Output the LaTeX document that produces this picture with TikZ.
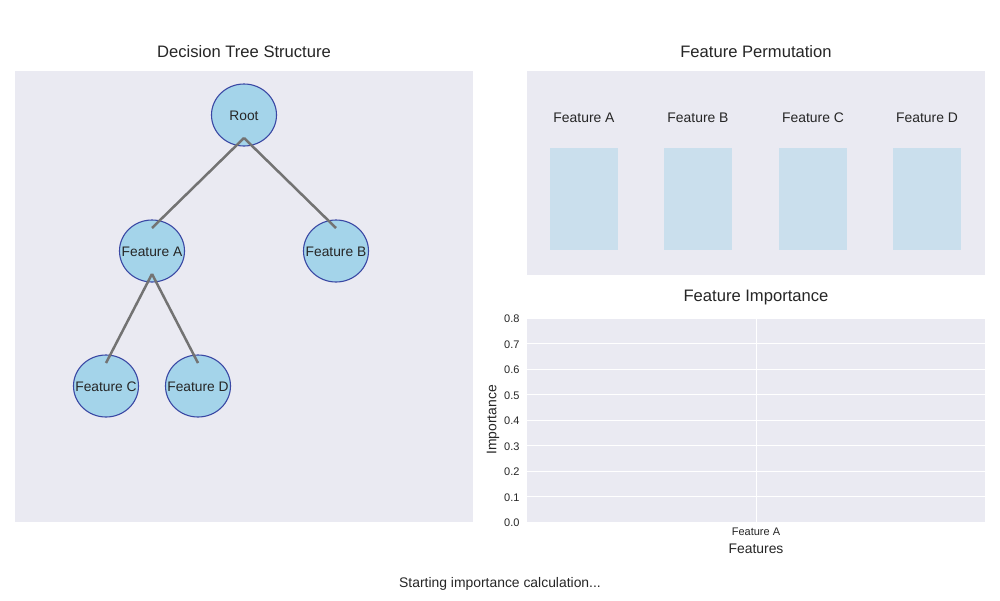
\documentclass[tikz,border=0pt]{standalone}
\usepackage{fontspec}
\setmainfont{Liberation Sans}
\usetikzlibrary{calc, shapes.geometric}

\definecolor{panelbg}{HTML}{EAEAF2}
\definecolor{nodefill}{HTML}{A4D4EA}
\definecolor{nodeedge}{HTML}{3A48A4}
\definecolor{edgegray}{HTML}{737373}
\definecolor{permfill}{HTML}{CADFED}
\definecolor{textdark}{HTML}{262626}

\tikzset{treenode/.style={ellipse, minimum width=65pt, minimum height=62pt,
                          inner sep=0pt, fill=nodefill, draw=nodeedge, line width=1.1pt,
                          label={[text=textdark, yshift=-1pt, font=\fontsize{13.8}{16}\selectfont]center:#1}},
         treeedge/.style={edgegray, line width=2.5pt},
         paneltitle/.style={text=textdark, font=\fontsize{16.6}{19}\selectfont},
         ticklabel/.style={text=textdark, font=\fontsize{11}{13}\selectfont},
         axlabel/.style={text=textdark, font=\fontsize{13.9}{16}\selectfont}}

\begin{document}
\begin{tikzpicture}%
    [x=1pt, y=-1pt]
    \useasboundingbox[fill=white] (0,0) rectangle (1000,600);

    % decision tree panel
    \fill[panelbg] (15,71) rectangle (473,522);
    \node[paneltitle] (treetitle) at (244,52) {Decision Tree Structure};

    \node[treenode=Root] (root) at (244,115) {};
    \node[treenode=Feature A] (featA) at (152,251) {};
    \node[treenode=Feature B] (featB) at (336,251) {};
    \node[treenode=Feature C] (featC) at (106,386) {};
    \node[treenode=Feature D] (featD) at (198,386) {};

    \draw[treeedge] ($(root.center)+(0,23)$) -- ($(featA.center)+(0,-23)$);
    \draw[treeedge] ($(root.center)+(0,23)$) -- ($(featB.center)+(0,-23)$);
    \draw[treeedge] ($(featA.center)+(0,23)$) -- ($(featC.center)+(0,-23)$);
    \draw[treeedge] ($(featA.center)+(0,23)$) -- ($(featD.center)+(0,-23)$);

    % permutation panel
    \fill[panelbg] (527,71) rectangle (985,275);
    \node[paneltitle] (permtitle) at (756,52) {Feature Permutation};
    \foreach \x/\name in {584/A, 698/B, 813/C, 927/D} {
        \node[axlabel] (perm\name) at (\x,118) {Feature \name};
        \fill[permfill] (\x-34,148) rectangle (\x+34,250);
    }

    % importance axes
    \fill[panelbg] (527,318) rectangle (985,522);
    \node[paneltitle] (imptitle) at (756,298) {Feature Importance};
    \foreach \v in {0,...,8} {
        \draw[white, line width=0.9pt] (527,522-25.5*\v) -- (985,522-25.5*\v);
        \node[ticklabel, anchor=east] at (523,523-25.5*\v) {0.\v};
    }
    \draw[white, line width=0.9pt] (756,318) -- (756,522);
    \node[ticklabel] (xtick) at (756,532) {Feature A};
    \node[axlabel] (xlab) at (756,549) {Features};
    \node[axlabel, rotate=90] (ylab) at (493,420) {Importance};

    \node[axlabel] (status) at (500,584) {Starting importance calculation...};
\end{tikzpicture}
\end{document}
